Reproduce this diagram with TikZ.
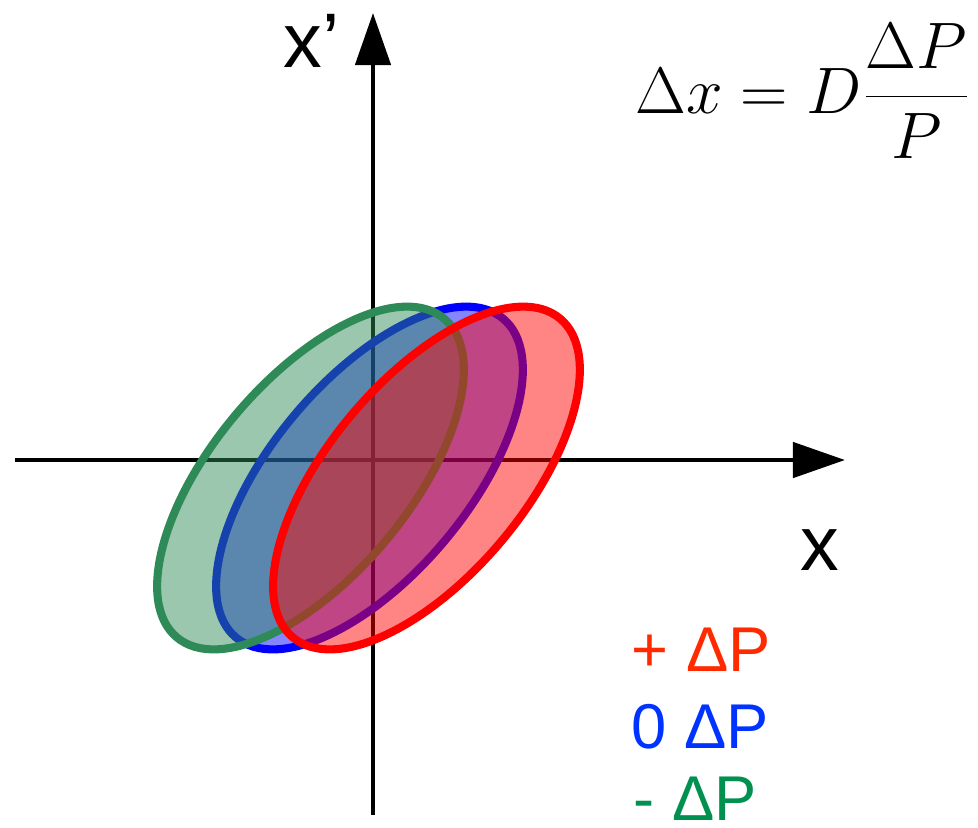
\RequirePackage{fix-cm}
\documentclass[tikz,border=0pt]{standalone}
\usepackage[no-math]{fontspec}
\newfontfamily\labelfont{Liberation Sans}
\usetikzlibrary{arrows.meta}
\definecolor{cblue}{HTML}{0000FF}
\definecolor{cgreen}{HTML}{2E8B57}
\definecolor{cred}{HTML}{FF0000}
\definecolor{tred}{HTML}{FF2A00}
\definecolor{tblue}{HTML}{0033FF}
\definecolor{tgreen}{HTML}{009050}
\tikzset{
  axis/.style={-{Triangle[length=5.2mm, width=3.5mm]}, line width=1.3pt},
  beam/.style={draw=#1, fill=#1, fill opacity=0.48, line width=2.3pt},
  axlabel/.style={font=\labelfont\fontsize{22}{26}\selectfont, inner sep=0pt, anchor=base west},
  legend/.style={font=\labelfont\fontsize{18}{22}\selectfont, inner sep=0pt, anchor=west, text=#1},
}

\begin{document}
\begin{tikzpicture}
  \useasboundingbox (-3.73,-3.67) rectangle (6.05,4.60);
  % axes
  \coordinate (xl) at (-3.58,0); \coordinate (xr) at (4.72,0);
  \coordinate (yb) at (0,-3.55); \coordinate (yt) at (0,4.47);
  \draw[axis] (xl) -- (xr);
  \draw[axis] (yb) -- (yt);
  \node[axlabel] (xplab) at (-0.90,3.93) {x’};
  \node[axlabel] (xlab) at (4.27,-1.10) {x};
  % phase space ellipses, 0 / - / + dP
  \foreach \cx/\col in {-0.035/cblue, -0.625/cgreen, 0.535/cred}
    \draw[beam=\col] (\cx,-0.18) ellipse [x radius=2.08, y radius=0.98, rotate=50];
  \node[inner sep=0pt, anchor=east, font=\fontsize{18.7}{22}\selectfont] (disp) at (5.99,3.69)
    {$\displaystyle \Delta x = D\frac{\Delta P}{P}$};
  \node[legend=tred] (plus) at (2.58,-1.895) {+ ΔP};
  \node[legend=tblue] (zero) at (2.58,-2.665) {0 ΔP};
  \node[legend=tgreen] (minus) at (2.60,-3.39) {- ΔP};
\end{tikzpicture}
\end{document}
